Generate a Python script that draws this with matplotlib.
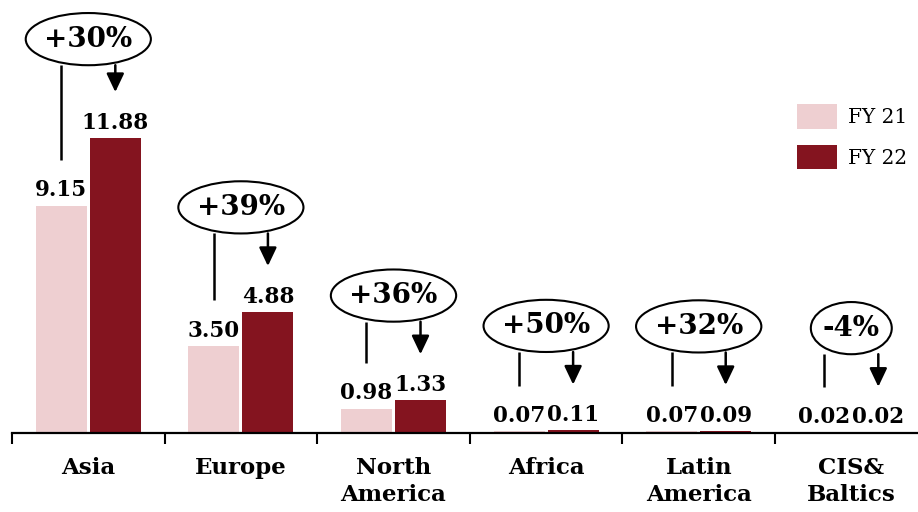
import numpy as np
from matplotlib import pyplot as plt
from matplotlib.patches import Ellipse

regions = ["Asia", "Europe", "North\nAmerica", "Africa", "Latin\nAmerica", "CIS&\nBaltics"]
fy21 = [9.15, 3.50, 0.98, 0.07, 0.07, 0.02]
fy22 = [11.88, 4.88, 1.33, 0.11, 0.09, 0.02]
growth = ["+30%", "+39%", "+36%", "+50%", "+32%", "-4%"]
series_names = ["FY 21", "FY 22"]

C21 = "#EECFD1"
C22 = "#84141F"
SERIF = "DejaVu Serif"

fig = plt.figure(figsize=(9.18, 5.12), dpi=100)
ax = fig.add_axes([12 / 918, 79 / 512, 915.6 / 918, 433 / 512])
ax.set_xlim(-0.5, 5.5)
ax.set_ylim(0, 433 / 24.85)

x = np.arange(len(regions))
off = 0.177
w = 0.335
b1 = ax.bar(x - off, fy21, w, color=C21, label=series_names[0])
b2 = ax.bar(x + off, fy22, w, color=C22, label=series_names[1])

# value labels
for xs, vals in ((x - off, fy21), (x + off, fy22)):
    for xi, v in zip(xs, vals):
        ax.annotate(f"{v:.2f}", (xi, v), xytext=(0, 3), textcoords="offset points",
                    ha="center", va="bottom", fontsize=15.5, fontweight="bold",
                    family=SERIF)

# growth bubbles with connector lines
fig.canvas.draw()
r = fig.canvas.get_renderer()
px_per_x = ax.bbox.width / 6.0
eh = 2.1
for i in range(len(regions)):
    top = max(fy21[i], fy22[i])
    cy = min(top + 4.2, 15.85)
    t = ax.text(x[i], cy, growth[i], ha="center", va="center", fontsize=20,
                fontweight="bold", family=SERIF, zorder=5)
    tw = t.get_window_extent(r).width / px_per_x
    ax.add_patch(Ellipse((x[i], cy), tw * 1.42, eh, facecolor="white",
                         edgecolor="black", lw=1.5, zorder=4))
    bottom = cy - eh / 2
    ax.plot([x[i] - off, x[i] - off], [bottom, fy21[i] + 1.84], color="black",
            lw=1.8, solid_capstyle="butt", zorder=3)
    ax.annotate("", xy=(x[i] + off, fy22[i] + 1.84), xytext=(x[i] + off, bottom),
                arrowprops=dict(arrowstyle="-|>,head_length=0.8,head_width=0.38",
                                mutation_scale=14, lw=1.8, color="black",
                                shrinkA=0, shrinkB=0), zorder=3)

for s in ("top", "left", "right"):
    ax.spines[s].set_visible(False)
ax.spines["bottom"].set_linewidth(1.6)
ax.set_yticks([])
ax.set_xticks(x)
ax.set_xticklabels(regions, fontsize=16.5, fontweight="bold", family=SERIF,
                   linespacing=1.3)
ax.tick_params(axis="x", which="major", length=0, pad=17)
ax.set_xticks(np.arange(-0.5, 6, 1), minor=True)
ax.tick_params(axis="x", which="minor", length=8, width=1.5, direction="out")

ax.legend(handles=[b1, b2], loc="upper left", bbox_to_anchor=(797 / 918, 1 - 104 / 512),
          bbox_transform=fig.transFigure, frameon=False, borderpad=0, borderaxespad=0,
          handlelength=2.0, handleheight=1.5, labelspacing=0.8, handletextpad=0.55,
          prop=dict(family=SERIF, size=14.5))

fig.savefig("out.png", dpi=100)
